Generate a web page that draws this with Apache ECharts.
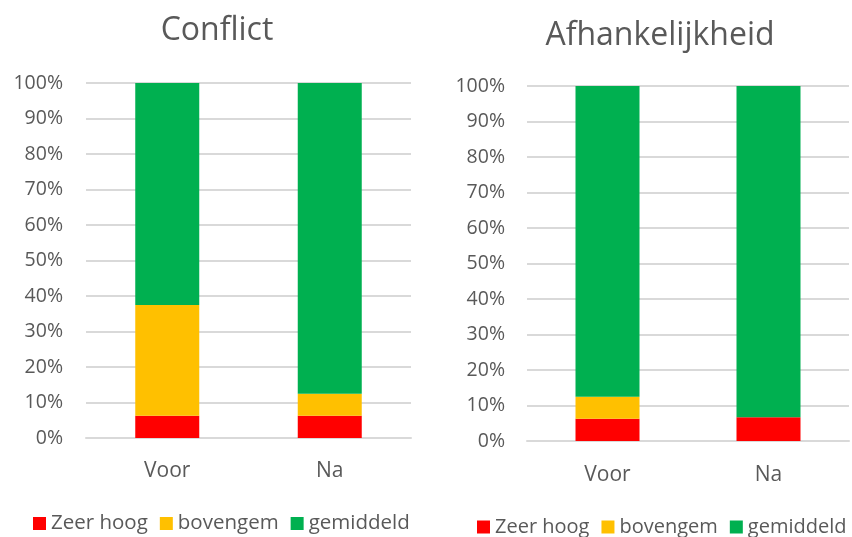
<!DOCTYPE html>
<html>
<head>
<meta charset="utf-8">
<script src="https://cdn.jsdelivr.net/npm/echarts@6/dist/echarts.min.js"></script>
<style>
html,body{margin:0;padding:0;background:#fff;}
#main{width:852px;height:537px;}
</style>
</head>
<body>
<div id="main"></div>
<script>
// ---- data ----
var categories = ['Voor', 'Na'];
var seriesNames = ['Zeer hoog', 'bovengem', 'gemiddeld'];
var chartTitles = ['Conflict', 'Afhankelijkheid'];
// Conflict (percent)
var conflictZeerHoog = [6.25, 6.25];
var conflictBovengem = [31.25, 6.25];
var conflictGemiddeld = [62.5, 87.5];
// Afhankelijkheid (percent)
var afhZeerHoog = [6.25, 6.67];
var afhBovengem = [6.25, 0];
var afhGemiddeld = [87.5, 93.33];
var yTicks = [0, 10, 20, 30, 40, 50, 60, 70, 80, 90, 100];

var colors = ['#FF0000', '#FFC000', '#00B050'];
var FONT = 'Open Sans';
var grey = '#595959';

var chart = echarts.init(document.getElementById('main'), null, {renderer: 'canvas'});

function yAxis(idx, margin) {
  return {
    type: 'value', gridIndex: idx, min: yTicks[0], max: yTicks[yTicks.length - 1], interval: 10,
    axisLine: {show: false}, axisTick: {show: false},
    axisLabel: {formatter: '{value}%', color: grey, fontFamily: FONT, fontSize: 19.5, margin: margin},
    splitLine: {lineStyle: {color: '#d9d9d9', width: 2}}
  };
}
function xAxis(idx, margin) {
  return {
    type: 'category', gridIndex: idx, data: categories,
    axisLine: {show: true, lineStyle: {color: '#d9d9d9', width: 2}},
    axisTick: {show: false},
    axisLabel: {color: grey, fontFamily: FONT, fontSize: 21, margin: margin}
  };
}
function bar(name, data, idx, colorIdx) {
  return {
    name: name, type: 'bar', stack: 's' + idx, xAxisIndex: idx, yAxisIndex: idx,
    data: data, barWidth: 64, itemStyle: {color: colors[colorIdx]}
  };
}

function legend(left, top, fontSize, gap) {
  return {
    left: left, top: top, width: 420,
    data: seriesNames, icon: 'rect', itemWidth: 13, itemHeight: 13, itemGap: gap,
    textStyle: {color: grey, fontFamily: FONT, fontSize: fontSize},
    selectedMode: false
  };
}

var option = {
  animation: false,
  backgroundColor: '#fff',
  title: [
    {text: chartTitles[0], left: 212, textAlign: 'center', top: 10,
     textStyle: {color: grey, fontFamily: FONT, fontSize: 32, fontWeight: 'normal'}},
    {text: chartTitles[1], left: 655, textAlign: 'center', top: 15,
     textStyle: {color: grey, fontFamily: FONT, fontSize: 32, fontWeight: 'normal'}}
  ],
  legend: [
    legend(28, 508, 20.5, 12),
    legend(472, 512, 20, 12)
  ],
  grid: [
    {left: 86, right: 441, top: 83, bottom: 99},
    {left: 527, right: 3, top: 86, bottom: 96}
  ],
  xAxis: [xAxis(0, 23), xAxis(1, 24)],
  yAxis: [yAxis(0, 23), yAxis(1, 22)],
  series: [
    bar(seriesNames[0], conflictZeerHoog, 0, 0),
    bar(seriesNames[1], conflictBovengem, 0, 1),
    bar(seriesNames[2], conflictGemiddeld, 0, 2),
    bar(seriesNames[0], afhZeerHoog, 1, 0),
    bar(seriesNames[1], afhBovengem, 1, 1),
    bar(seriesNames[2], afhGemiddeld, 1, 2)
  ]
};
chart.setOption(option);
</script>
</body>
</html>
